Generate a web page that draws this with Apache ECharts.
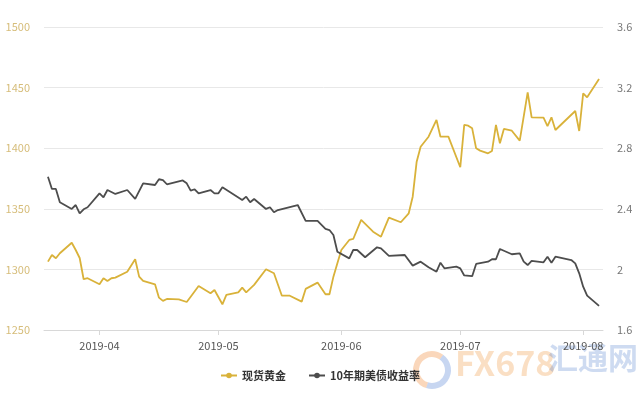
<!DOCTYPE html>
<html>
<head>
<meta charset="utf-8">
<script src="https://cdn.jsdelivr.net/npm/echarts@6/dist/echarts.min.js"></script>
<style>html,body{margin:0;padding:0;background:#fff}#c{width:640px;height:400px}</style>
</head>
<body>
<div id="c"></div>
<script>
var goldDates = ['2019-03-19','2019-03-20','2019-03-21','2019-03-22','2019-03-25','2019-03-26','2019-03-27','2019-03-28','2019-03-29','2019-04-01','2019-04-02','2019-04-03','2019-04-04','2019-04-05','2019-04-08','2019-04-10','2019-04-11','2019-04-12','2019-04-15','2019-04-16','2019-04-17','2019-04-18','2019-04-21','2019-04-23','2019-04-24','2019-04-26','2019-04-29','2019-04-30','2019-05-02','2019-05-03','2019-05-06','2019-05-07','2019-05-08','2019-05-10','2019-05-13','2019-05-15','2019-05-17','2019-05-19','2019-05-22','2019-05-23','2019-05-26','2019-05-28','2019-05-29','2019-05-30','2019-05-31','2019-06-01','2019-06-03','2019-06-04','2019-06-06','2019-06-09','2019-06-11','2019-06-13','2019-06-16','2019-06-18','2019-06-19','2019-06-20','2019-06-21','2019-06-23','2019-06-25','2019-06-26','2019-06-28','2019-07-01','2019-07-02','2019-07-03','2019-07-04','2019-07-05','2019-07-06','2019-07-08','2019-07-09','2019-07-10','2019-07-11','2019-07-12','2019-07-14','2019-07-16','2019-07-18','2019-07-19','2019-07-22','2019-07-23','2019-07-24','2019-07-25','2019-07-30','2019-07-31','2019-08-01','2019-08-02','2019-08-05'];
var goldValues = [1306.4,1311.9,1309.2,1313.3,1322.0,1316.0,1309.4,1291.9,1292.7,1287.7,1292.7,1290.5,1292.7,1293.2,1298.1,1308.4,1294.0,1290.5,1287.7,1276.7,1274.0,1275.6,1275.2,1273.1,1277.5,1286.3,1280.3,1283.0,1271.2,1278.9,1281.1,1284.9,1281.1,1287.2,1300.1,1296.8,1278.3,1278.3,1273.4,1283.9,1289.1,1279.5,1279.5,1294.0,1305.0,1316.0,1324.3,1325.1,1340.8,1331.1,1327.0,1342.7,1338.9,1346.3,1360.0,1388.9,1401.2,1409.5,1423.3,1409.5,1409.5,1384.3,1419.2,1418.6,1416.4,1399.9,1398.0,1395.8,1397.7,1419.2,1404.0,1415.9,1414.4,1406.2,1446.1,1425.5,1425.2,1418.3,1425.5,1415.0,1430.7,1414.2,1445.3,1442.0,1457.1];

var yieldDates = ['2019-03-19','2019-03-20','2019-03-21','2019-03-22','2019-03-25','2019-03-26','2019-03-27','2019-03-28','2019-03-29','2019-04-01','2019-04-02','2019-04-03','2019-04-05','2019-04-08','2019-04-10','2019-04-12','2019-04-15','2019-04-16','2019-04-17','2019-04-18','2019-04-22','2019-04-23','2019-04-24','2019-04-25','2019-04-26','2019-04-29','2019-04-30','2019-05-01','2019-05-02','2019-05-07','2019-05-08','2019-05-09','2019-05-10','2019-05-13','2019-05-14','2019-05-15','2019-05-16','2019-05-21','2019-05-23','2019-05-26','2019-05-28','2019-05-29','2019-05-30','2019-05-31','2019-06-03','2019-06-04','2019-06-05','2019-06-07','2019-06-10','2019-06-11','2019-06-13','2019-06-17','2019-06-19','2019-06-21','2019-06-23','2019-06-25','2019-06-26','2019-06-27','2019-06-30','2019-07-01','2019-07-02','2019-07-04','2019-07-05','2019-07-08','2019-07-09','2019-07-10','2019-07-11','2019-07-14','2019-07-16','2019-07-17','2019-07-18','2019-07-19','2019-07-22','2019-07-23','2019-07-24','2019-07-25','2019-07-29','2019-07-30','2019-07-31','2019-08-01','2019-08-02','2019-08-05'];
var yieldValues = [2.612,2.531,2.531,2.443,2.399,2.425,2.370,2.397,2.410,2.502,2.476,2.524,2.498,2.524,2.465,2.568,2.557,2.595,2.590,2.562,2.587,2.568,2.520,2.529,2.502,2.524,2.502,2.502,2.542,2.458,2.480,2.443,2.465,2.399,2.410,2.377,2.392,2.425,2.320,2.320,2.267,2.260,2.227,2.117,2.073,2.128,2.128,2.080,2.146,2.139,2.089,2.095,2.025,2.051,2.014,1.985,2.044,2.007,2.018,2.007,1.960,1.955,2.036,2.051,2.067,2.067,2.135,2.100,2.106,2.051,2.029,2.056,2.047,2.084,2.044,2.084,2.062,2.040,1.974,1.886,1.827,1.759];

var seriesNames = ['现货黄金','10年期美债收益率'];
var xMin = '2019-03-18', xMax = '2019-08-06';

function zip(a,b){var r=[];for(var i=0;i<a.length;i++)r.push([a[i],b[i]]);return r;}

var chart = echarts.init(document.getElementById('c'));
var fontFam = '"Noto Sans CJK SC","Noto Sans",sans-serif';
chart.setOption({
  animation:false,
  textStyle:{fontFamily:fontFam},
  grid:{left:44,right:37,top:27,bottom:70},
  legend:{
    data:seriesNames,bottom:14,left:'center',itemWidth:16,itemHeight:7,itemGap:22,
    textStyle:{fontSize:11,color:'#333',fontWeight:'bold',fontFamily:fontFam}
  },
  xAxis:{
    type:'time',min:xMin,max:xMax,
    minInterval:28*86400000,
    axisLine:{lineStyle:{color:'#d8d8d8'}},
    axisTick:{show:true,length:5,lineStyle:{color:'#d8d8d8'}},
    splitLine:{show:false},
    axisLabel:{color:'#555',fontSize:11,margin:10,
      formatter:function(v){return echarts.time.format(v,'{yyyy}-{MM}',false);}}
  },
  yAxis:[
    {type:'value',min:1250,max:1500,interval:50,position:'left',
      axisLine:{show:false},axisTick:{show:false},
      splitLine:{lineStyle:{color:'#e8e8e8'}},
      axisLabel:{color:'#d6bd7a',fontSize:11,margin:14,formatter:function(v){return String(v);}}},
    {type:'value',min:1.6,max:3.6,interval:0.4,position:'right',
      axisLine:{show:false},axisTick:{show:false},
      splitLine:{show:false},
      axisLabel:{color:'#777',fontSize:11,margin:14}}
  ],
  series:[
    {name:seriesNames[0],type:'line',yAxisIndex:0,data:zip(goldDates,goldValues),
      showSymbol:false,symbol:'circle',symbolSize:6,
      lineStyle:{color:'#d9b23a',width:1.8},itemStyle:{color:'#d9b23a'}},
    {name:seriesNames[1],type:'line',yAxisIndex:1,data:zip(yieldDates,yieldValues),
      showSymbol:false,symbol:'circle',symbolSize:6,
      lineStyle:{color:'#4d4d4d',width:1.8},itemStyle:{color:'#4d4d4d'}}
  ],
  graphic:[
    {type:'arc',silent:true,z:-1,shape:{cx:432,cy:370,r:16,startAngle:Math.PI*0.6,endAngle:Math.PI*1.7},style:{stroke:'rgba(240,140,60,0.35)',lineWidth:6,fill:null}},
    {type:'arc',silent:true,z:-1,shape:{cx:432,cy:370,r:16,startAngle:Math.PI*1.7,endAngle:Math.PI*2.6},style:{stroke:'rgba(70,120,210,0.3)',lineWidth:6,fill:null}},
    {type:'text',silent:true,z:-1,left:455,top:346,style:{text:'FX678',fill:'rgba(240,150,60,0.3)',font:'bold 34px '+fontFam}},
    {type:'text',silent:true,z:-1,left:548,top:343,style:{text:'汇通网',fill:'rgba(60,110,200,0.25)',font:'bold 30px '+fontFam}}
  ]
});
</script>
</body>
</html>
